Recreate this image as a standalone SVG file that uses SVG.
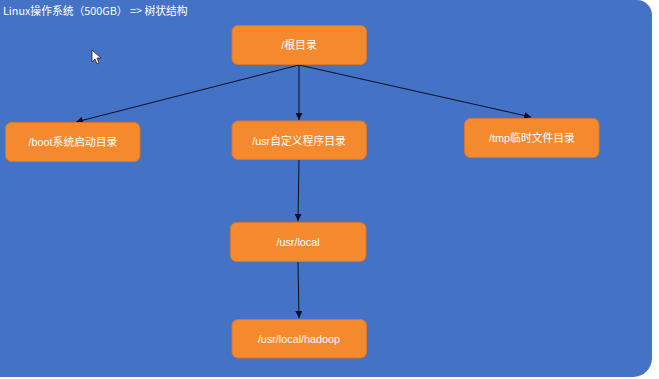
<svg xmlns="http://www.w3.org/2000/svg" width="659" height="379" viewBox="0 0 659 379">
<defs>
<marker id="arr" viewBox="0 0 10 10" refX="10" refY="5" markerWidth="7" markerHeight="7" orient="auto" markerUnits="userSpaceOnUse">
<path d="M0,0 L10,5 L0,10 z" fill="#0d0d26"/>
</marker>
<style>
.node rect{fill:#F5892E;stroke:#D8772C;stroke-width:1}
.node text{fill:#ffffff;font-family:"Liberation Sans","Noto Sans CJK SC",sans-serif;font-size:10.8px;text-anchor:middle;dominant-baseline:central}
.conn line{stroke:#0d0d26;stroke-width:1;marker-end:url(#arr)}
</style>
</defs>
<rect x="0" y="0" width="659" height="379" fill="#ffffff"/>
<path d="M0,0 H637 A15,15 0 0 1 652,15 V358 A19,19 0 0 1 633,377 H0 Z" fill="#4472C4"/>
<text x="3" y="15" fill="#ffffff" font-family="Noto Sans CJK SC, sans-serif" font-size="10.8">Linux操作系统（500GB） =&gt; 树状结构</text>
<g id="cursor">
<path d="M92,50 L92,62 L95,59 L97,64 L99,63 L97,58 L101,58 Z" fill="#ffffff" stroke="#222222" stroke-width="0.8"/>
</g>
<g class="conn" id="connectors">
<line x1="299" y1="65" x2="76" y2="122"/>
<line x1="299" y1="65" x2="299" y2="120"/>
<line x1="299" y1="65" x2="531" y2="117"/>
<line x1="299" y1="159" x2="298" y2="221"/>
<line x1="298" y1="262" x2="299" y2="318"/>
</g>
<g class="node" id="root"><rect x="232" y="25.5" width="134.5" height="39" rx="6"/><text x="299" y="45">/根目录</text></g>
<g class="node" id="boot"><rect x="5.5" y="122.5" width="134.5" height="39" rx="6"/><text x="73" y="142">/boot系统启动目录</text></g>
<g class="node" id="usr"><rect x="232" y="121" width="134.5" height="38.5" rx="6"/><text x="299" y="140.5">/usr自定义程序目录</text></g>
<g class="node" id="tmp"><rect x="464.5" y="118.5" width="134.5" height="39" rx="6"/><text x="532" y="138">/tmp临时文件目录</text></g>
<g class="node" id="local"><rect x="230.5" y="222.5" width="135.5" height="39" rx="6"/><text x="298" y="242">/usr/local</text></g>
<g class="node" id="hadoop"><rect x="232" y="319.5" width="134.5" height="38.5" rx="6"/><text x="299" y="339">/usr/local/hadoop</text></g>
</svg>
